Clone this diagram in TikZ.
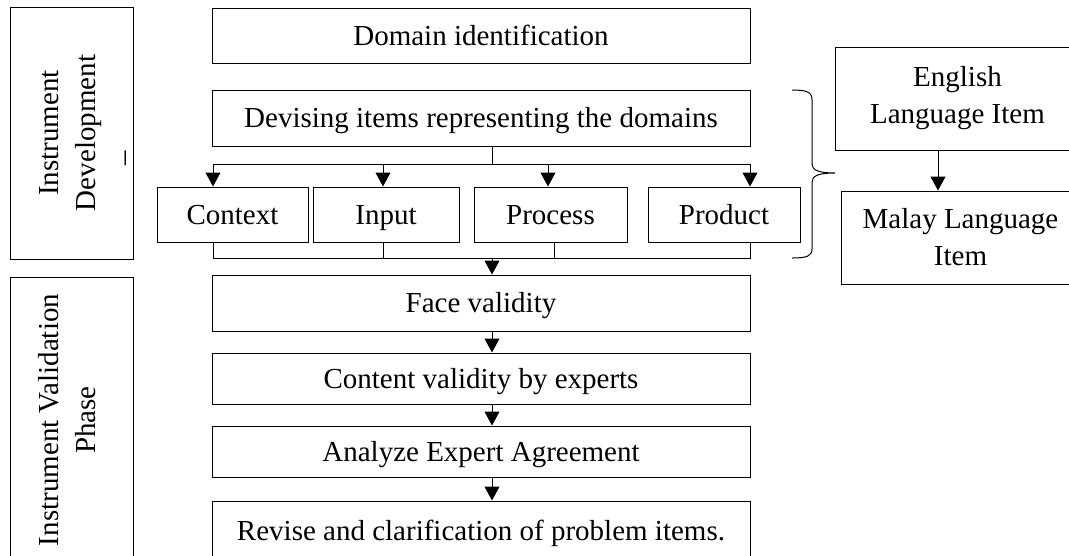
\documentclass[tikz,border=0pt]{standalone}
\usepackage{fontspec}
\setmainfont{Liberation Serif}
\usetikzlibrary{arrows.meta}
\begin{document}
\begin{tikzpicture}[x=1pt,y=-1pt,
  box/.style={draw, line width=1pt, inner sep=0pt, align=center, font=\fontsize{29}{37}\selectfont},
  sbox/.style={box, text height=25pt, text depth=6pt},
  vtext/.style={rotate=90, inner sep=0pt, align=center, font=\fontsize{29}{37}\selectfont},
  arr/.style={-{Triangle[width=15pt,length=14pt]}, line width=1pt},
  conn/.style={line width=1pt}]
\useasboundingbox (0,0) rectangle (1069,555);
% phase boxes
\node[box, minimum width=123pt, minimum height=252pt] (ph1) at (71.5,133) {};
\node[vtext] (ph1t) at (86,133) {Instrument\\Development\\–\hspace*{50pt}};
\node[box, minimum width=123pt, minimum height=293pt] (ph2) at (71.5,423.5) {};
\node[vtext] (ph2t) at (67,420) {Instrument Validation\\Phase};
% main column
\node[sbox, minimum width=538pt, minimum height=55pt] (dom) at (481,35.5) {Domain identification};
\node[sbox, minimum width=538pt, minimum height=56pt] (dev) at (481,118) {Devising items representing the domains};
\node[sbox, minimum width=151pt, minimum height=55pt] (ctx) at (232.5,214.5) {Context};
\node[sbox, minimum width=146pt, minimum height=55pt] (inp) at (386,214.5) {Input};
\node[sbox, minimum width=153pt, minimum height=55pt] (proc) at (550.5,214.5) {Process};
\node[sbox, minimum width=152pt, minimum height=55pt] (prod) at (724,214.5) {Product};
\node[sbox, minimum width=538pt, minimum height=56pt] (face) at (481,303) {Face validity};
\node[sbox, minimum width=538pt, minimum height=51pt] (cont) at (481,378.5) {Content validity by experts};
\node[sbox, minimum width=538pt, minimum height=51pt] (anal) at (481,451.5) {Analyze Expert Agreement};
\node[sbox, minimum width=538pt, minimum height=59pt] (rev) at (481,530.5) {Revise and clarification of problem items.};
% language boxes
\node[box, minimum width=245pt, minimum height=103pt] (eng) at (957.5,98.5) {English\\Language Item};
\node[box, minimum width=239pt, minimum height=93pt] (mal) at (960.5,237.5) {Malay Language\\Item};
% coordinates
\coordinate (mx) at (492,0);
\coordinate (tj) at (492,164);
\coordinate (tl) at (213,164);
\coordinate (ti) at (383,164);
\coordinate (tp) at (548,164);
\coordinate (tr) at (750,164);
\coordinate (bl) at (213,258);
\coordinate (bi) at (383,258);
\coordinate (bp) at (554,258);
\coordinate (bm) at (492,258);
\coordinate (br) at (750,258);
\coordinate (ea) at (938,150);
% top fan-out
\draw[conn] (dev.south -| tj) -- (tj);
\draw[conn] (tl) -- (tr);
\draw[arr] (tl) -- (tl |- ctx.north);
\draw[arr] (ti) -- (ti |- inp.north);
\draw[arr] (tp) -- (tp |- proc.north);
\draw[arr] (tr) -- (tr |- prod.north);
% bottom fan-in
\draw[conn] (ctx.south -| bl) -- (bl) -- (br) -- (prod.south -| br);
\draw[conn] (inp.south -| bi) -- (bi);
\draw[conn] (proc.south -| bp) -- (bp);
\draw[arr] (bm) -- (face.north -| bm);
% chain
\draw[arr] (face.south -| mx) -- (cont.north -| mx);
\draw[arr] (cont.south -| mx) -- (anal.north -| mx);
\draw[arr] (anal.south -| mx) -- (rev.north -| mx);
% language arrow
\draw[arr] (ea) -- (ea |- mal.north);
% brace
\draw[conn] (792,90) .. controls (807,90) and (812,92) .. (812,100) -- (812,164)
  .. controls (812,170) and (818,173) .. (835,173)
  .. controls (818,173) and (812,176) .. (812,182) -- (812,249)
  .. controls (812,256) and (807,258) .. (792,258);
\end{tikzpicture}
\end{document}
